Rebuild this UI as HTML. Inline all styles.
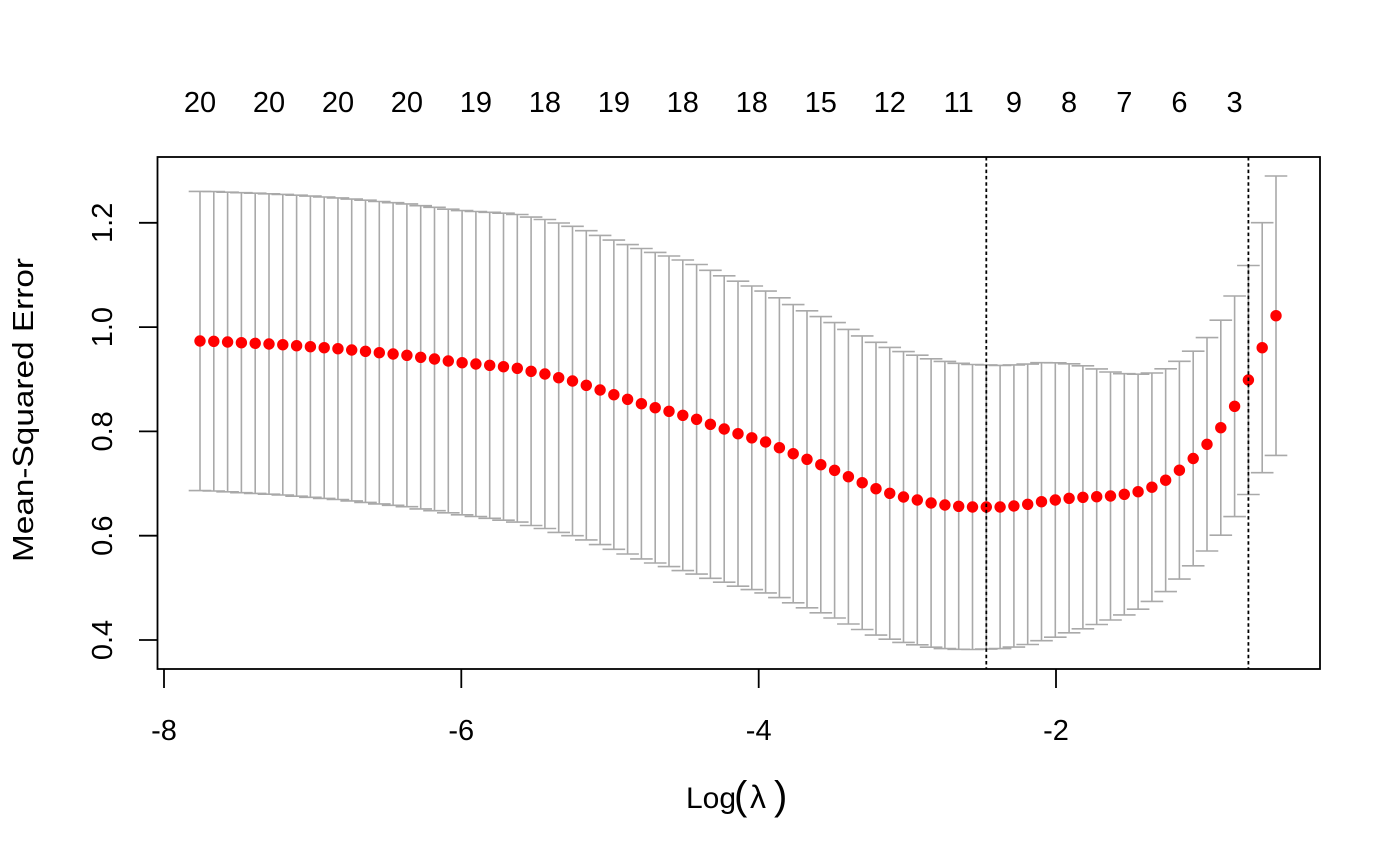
<!DOCTYPE html>
<html>
<head>
<meta charset="utf-8">
<style>
  html, body { margin: 0; padding: 0; background: #ffffff; }
  svg { display: block; }
  text { font-family: "Liberation Sans", Arial, Helvetica, sans-serif; fill: #000; }
</style>
</head>
<body>
<svg width="1400" height="865" viewBox="0 0 1400 865" xmlns="http://www.w3.org/2000/svg">
  <rect x="0" y="0" width="1400" height="865" fill="#ffffff"/>

  <path fill="none" stroke="#A9A9A9" stroke-width="1.6" d="
M200 191.4V490.6m-11.3 0h22.6M200 191.4m-11.3 0h22.6
M213.8 191.6V491m-11.3 0h22.6M213.8 191.6m-11.3 0h22.6
M227.6 192.2V491.8m-11.3 0h22.6M227.6 192.2m-11.3 0h22.6
M241.4 192.7V492.7m-11.3 0h22.6M241.4 192.7m-11.3 0h22.6
M255.2 193.2V493.4m-11.3 0h22.6M255.2 193.2m-11.3 0h22.6
M269 193.8V494.2m-11.3 0h22.6M269 193.8m-11.3 0h22.6
M282.8 194.4V495m-11.3 0h22.6M282.8 194.4m-11.3 0h22.6
M296.6 195.2V496.2m-11.3 0h22.6M296.6 195.2m-11.3 0h22.6
M310.4 196.1V497.3m-11.3 0h22.6M310.4 196.1m-11.3 0h22.6
M324.2 197V498.4m-11.3 0h22.6M324.2 197m-11.3 0h22.6
M337.95 197.9V499.5m-11.3 0h22.6M337.95 197.9m-11.3 0h22.6
M351.7 199.1V500.9m-11.3 0h22.6M351.7 199.1m-11.3 0h22.6
M365.5 200.2V502.4m-11.3 0h22.6M365.5 200.2m-11.3 0h22.6
M379.3 201.5V503.9m-11.3 0h22.6M379.3 201.5m-11.3 0h22.6
M393.1 202.7V505.3m-11.3 0h22.6M393.1 202.7m-11.3 0h22.6
M406.9 203.9V506.7m-11.3 0h22.6M406.9 203.9m-11.3 0h22.6
M420.7 205.7V508.9m-11.3 0h22.6M420.7 205.7m-11.3 0h22.6
M434.5 207.3V510.7m-11.3 0h22.6M434.5 207.3m-11.3 0h22.6
M448.3 209.2V512.8m-11.3 0h22.6M448.3 209.2m-11.3 0h22.6
M462.1 210.6V514.8m-11.3 0h22.6M462.1 210.6m-11.3 0h22.6
M475.9 211.5V516.5m-11.3 0h22.6M475.9 211.5m-11.3 0h22.6
M489.7 212.3V518.3m-11.3 0h22.6M489.7 212.3m-11.3 0h22.6
M503.5 213.2V520.2m-11.3 0h22.6M503.5 213.2m-11.3 0h22.6
M517.3 214.5V522.1m-11.3 0h22.6M517.3 214.5m-11.3 0h22.6
M531.1 217.1V525.5m-11.3 0h22.6M531.1 217.1m-11.3 0h22.6
M544.9 219.5V528.5m-11.3 0h22.6M544.9 219.5m-11.3 0h22.6
M558.7 223V532.4m-11.3 0h22.6M558.7 223m-11.3 0h22.6
M572.5 226.3V535.7m-11.3 0h22.6M572.5 226.3m-11.3 0h22.6
M586.3 230.7V539.9m-11.3 0h22.6M586.3 230.7m-11.3 0h22.6
M600.1 235.4V544.6m-11.3 0h22.6M600.1 235.4m-11.3 0h22.6
M613.85 240.1V549.3m-11.3 0h22.6M613.85 240.1m-11.3 0h22.6
M627.6 244.6V554m-11.3 0h22.6M627.6 244.6m-11.3 0h22.6
M641.4 248.5V558.9m-11.3 0h22.6M641.4 248.5m-11.3 0h22.6
M655.2 252.4V563m-11.3 0h22.6M655.2 252.4m-11.3 0h22.6
M669 256V566.6m-11.3 0h22.6M669 256m-11.3 0h22.6
M682.8 260V570.6m-11.3 0h22.6M682.8 260m-11.3 0h22.6
M696.6 264.5V574.1m-11.3 0h22.6M696.6 264.5m-11.3 0h22.6
M710.4 270.3V578.3m-11.3 0h22.6M710.4 270.3m-11.3 0h22.6
M724.2 275.8V582.2m-11.3 0h22.6M724.2 275.8m-11.3 0h22.6
M738 281.2V586.2m-11.3 0h22.6M738 281.2m-11.3 0h22.6
M751.8 286V589.6m-11.3 0h22.6M751.8 286m-11.3 0h22.6
M765.6 291.1V592.9m-11.3 0h22.6M765.6 291.1m-11.3 0h22.6
M779.4 297.8V597.6m-11.3 0h22.6M779.4 297.8m-11.3 0h22.6
M793.2 304.6V602.8m-11.3 0h22.6M793.2 304.6m-11.3 0h22.6
M807 310.8V607.8m-11.3 0h22.6M807 310.8m-11.3 0h22.6
M820.8 316.6V612.8m-11.3 0h22.6M820.8 316.6m-11.3 0h22.6
M834.6 322.6V618m-11.3 0h22.6M834.6 322.6m-11.3 0h22.6
M848.4 329.4V624m-11.3 0h22.6M848.4 329.4m-11.3 0h22.6
M862.2 335.9V629.5m-11.3 0h22.6M862.2 335.9m-11.3 0h22.6
M876 342.3V635.1m-11.3 0h22.6M876 342.3m-11.3 0h22.6
M889.75 347.4V639.2m-11.3 0h22.6M889.75 347.4m-11.3 0h22.6
M903.5 351.6V642.4m-11.3 0h22.6M903.5 351.6m-11.3 0h22.6
M917.3 355.2V644.8m-11.3 0h22.6M917.3 355.2m-11.3 0h22.6
M931.1 358.8V647.2m-11.3 0h22.6M931.1 358.8m-11.3 0h22.6
M944.9 361.4V648.6m-11.3 0h22.6M944.9 361.4m-11.3 0h22.6
M958.7 363.3V649.3m-11.3 0h22.6M958.7 363.3m-11.3 0h22.6
M972.5 364.5V649.5m-11.3 0h22.6M972.5 364.5m-11.3 0h22.6
M986.3 364.9V649.1m-11.3 0h22.6M986.3 364.9m-11.3 0h22.6
M1000.1 365.4V648.6m-11.3 0h22.6M1000.1 365.4m-11.3 0h22.6
M1013.9 364.9V647.1m-11.3 0h22.6M1013.9 364.9m-11.3 0h22.6
M1027.7 364.1V644.5m-11.3 0h22.6M1027.7 364.1m-11.3 0h22.6
M1041.5 362.7V640.7m-11.3 0h22.6M1041.5 362.7m-11.3 0h22.6
M1055.3 362.8V637.2m-11.3 0h22.6M1055.3 362.8m-11.3 0h22.6
M1069.1 363.8V632.8m-11.3 0h22.6M1069.1 363.8m-11.3 0h22.6
M1082.9 365.8V628.8m-11.3 0h22.6M1082.9 365.8m-11.3 0h22.6
M1096.7 368.9V624.5m-11.3 0h22.6M1096.7 368.9m-11.3 0h22.6
M1110.5 372V620m-11.3 0h22.6M1110.5 372m-11.3 0h22.6
M1124.3 373.7V614.9m-11.3 0h22.6M1124.3 373.7m-11.3 0h22.6
M1138.1 374.2V609.2m-11.3 0h22.6M1138.1 374.2m-11.3 0h22.6
M1151.9 373V601.4m-11.3 0h22.6M1151.9 373m-11.3 0h22.6
M1165.65 368.8V591.6m-11.3 0h22.6M1165.65 368.8m-11.3 0h22.6
M1179.4 361.3V579.1m-11.3 0h22.6M1179.4 361.3m-11.3 0h22.6
M1193.2 351.2V565.8m-11.3 0h22.6M1193.2 351.2m-11.3 0h22.6
M1207 337.6V551m-11.3 0h22.6M1207 337.6m-11.3 0h22.6
M1220.8 320.2V535.2m-11.3 0h22.6M1220.8 320.2m-11.3 0h22.6
M1234.6 296V516.6m-11.3 0h22.6M1234.6 296m-11.3 0h22.6
M1248.4 265.5V494.5m-11.3 0h22.6M1248.4 265.5m-11.3 0h22.6
M1262.2 222.7V472.7m-11.3 0h22.6M1262.2 222.7m-11.3 0h22.6
M1276 176V455.4m-11.3 0h22.6M1276 176m-11.3 0h22.6"/>

  <path fill="none" stroke="#FF0000" stroke-width="11.4" stroke-linecap="round" d="
M200 341h0M213.8 341.3h0M227.6 342h0M241.4 342.7h0M255.2 343.3h0M269 344h0M282.8 344.7h0M296.6 345.7h0M310.4 346.7h0M324.2 347.7h0
M337.95 348.7h0M351.7 350h0M365.5 351.3h0M379.3 352.7h0M393.1 354h0M406.9 355.3h0M420.7 357.3h0M434.5 359h0M448.3 361h0M462.1 362.7h0
M475.9 364h0M489.7 365.3h0M503.5 366.7h0M517.3 368.3h0M531.1 371.3h0M544.9 374h0M558.7 377.7h0M572.5 381h0M586.3 385.3h0M600.1 390h0
M613.85 394.7h0M627.6 399.3h0M641.4 403.7h0M655.2 407.7h0M669 411.3h0M682.8 415.3h0M696.6 419.3h0M710.4 424.3h0M724.2 429h0M738 433.7h0
M751.8 437.8h0M765.6 442h0M779.4 447.7h0M793.2 453.7h0M807 459.3h0M820.8 464.7h0M834.6 470.3h0M848.4 476.7h0M862.2 482.7h0M876 488.7h0
M889.75 493.3h0M903.5 497h0M917.3 500h0M931.1 503h0M944.9 505h0M958.7 506.3h0M972.5 507h0M986.3 507h0M1000.1 507h0M1013.9 506h0
M1027.7 504.3h0M1041.5 501.7h0M1055.3 500h0M1069.1 498.3h0M1082.9 497.3h0M1096.7 496.7h0M1110.5 496h0M1124.3 494.3h0M1138.1 491.7h0M1151.9 487.2h0
M1165.65 480.2h0M1179.4 470.2h0M1193.2 458.5h0M1207 444.3h0M1220.8 427.7h0M1234.6 406.3h0M1248.4 380h0M1262.2 347.7h0M1276 315.7h0"/>

  <line x1="986.3" y1="157" x2="986.3" y2="669" stroke="#000" stroke-width="1.8" stroke-dasharray="3.5 2.8"/>
  <line x1="1248.4" y1="157" x2="1248.4" y2="669" stroke="#000" stroke-width="1.8" stroke-dasharray="3.5 2.8"/>

  <rect x="157.5" y="157" width="1162.5" height="512" fill="none" stroke="#000" stroke-width="1.8"/>

  <path fill="none" stroke="#000" stroke-width="1.8" d="M164 669V688M461.3 669V688M758.7 669V688M1056 669V688"/>
  <g font-size="29" text-anchor="middle">
    <text x="164" y="740">-8</text>
    <text x="461.3" y="740">-6</text>
    <text x="758.7" y="740">-4</text>
    <text x="1056" y="740">-2</text>
  </g>

  <path fill="none" stroke="#000" stroke-width="1.8" d="M139 640H157.5M139 535.7H157.5M139 431.4H157.5M139 327.1H157.5M139 222.8H157.5"/>
  <g font-size="29" text-anchor="middle">
    <text transform="translate(112,640) rotate(-90)">0.4</text>
    <text transform="translate(112,535.7) rotate(-90)">0.6</text>
    <text transform="translate(112,431.4) rotate(-90)">0.8</text>
    <text transform="translate(112,327.1) rotate(-90)">1.0</text>
    <text transform="translate(112,222.8) rotate(-90)">1.2</text>
  </g>

  <g font-size="29" text-anchor="middle">
    <text x="200" y="112">20</text>
    <text x="269" y="112">20</text>
    <text x="337.95" y="112">20</text>
    <text x="406.9" y="112">20</text>
    <text x="475.9" y="112">19</text>
    <text x="544.9" y="112">18</text>
    <text x="613.85" y="112">19</text>
    <text x="682.8" y="112">18</text>
    <text x="751.8" y="112">18</text>
    <text x="820.8" y="112">15</text>
    <text x="889.75" y="112">12</text>
    <text x="958.7" y="112">11</text>
    <text x="1013.9" y="112">9</text>
    <text x="1069.1" y="112">8</text>
    <text x="1124.3" y="112">7</text>
    <text x="1179.4" y="112">6</text>
    <text x="1234.6" y="112">3</text>
  </g>

  <text font-size="29" text-anchor="middle" textLength="304" lengthAdjust="spacingAndGlyphs" transform="translate(33,410) rotate(-90)">Mean-Squared Error</text>

  <text x="686" y="808" font-size="30">Log</text>
  <text x="734" y="809" font-size="40">(</text>
  <text x="750" y="808" font-size="32">λ</text>
  <text x="774" y="809" font-size="40">)</text>
</svg>
</body>
</html>
